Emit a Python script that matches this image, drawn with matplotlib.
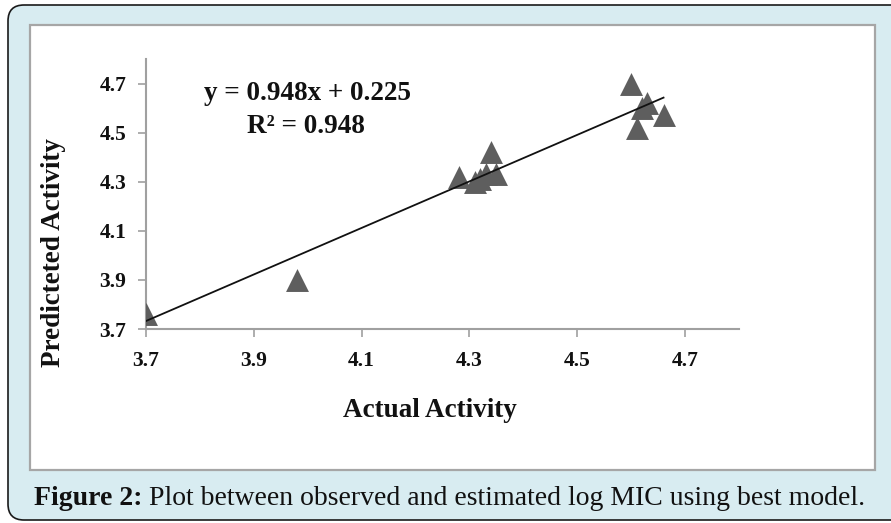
import matplotlib
matplotlib.use("Agg")
import matplotlib.pyplot as plt
import numpy as np
from matplotlib.patches import FancyBboxPatch, Rectangle

# ---- data ----
actual = [3.70, 3.98, 4.28, 4.31, 4.32, 4.33, 4.34, 4.35, 4.60, 4.61, 4.62, 4.63, 4.66]
predicted = [3.76, 3.90, 4.32, 4.30, 4.31, 4.33, 4.42, 4.33, 4.70, 4.52, 4.60, 4.62, 4.57]
slope = 0.948
intercept = 0.225
r2 = 0.948
x_ticks = [3.7, 3.9, 4.1, 4.3, 4.5, 4.7]
y_ticks = [3.7, 3.9, 4.1, 4.3, 4.5, 4.7]
x_label = "Actual Activity"
y_label = "Predicteted Activity"
caption_bold = "Figure 2:"
caption_rest = " Plot between observed and estimated log MIC using best model."

W, H = 891, 523
fig = plt.figure(figsize=(W / 100, H / 100), dpi=100)
fig.patch.set_facecolor("white")

# background (pixel coordinates)
bg = fig.add_axes([0, 0, 1, 1], zorder=0)
bg.set_xlim(0, W)
bg.set_ylim(H, 0)
bg.axis("off")
bg.add_patch(FancyBboxPatch((8, 5), 920, 515,
                            boxstyle="round,pad=0,rounding_size=16",
                            fc="#d8ecf1", ec="#1a1a1a", lw=1.2))
bg.add_patch(Rectangle((30, 25), 845, 445, fc="white", ec="#a6a6a6", lw=1.6))

serif = ["Liberation Serif", "DejaVu Serif"]

# main axes
left, right, top, bottom = 146, 739, 59, 329
ax = fig.add_axes([left / W, 1 - bottom / H, (right - left) / W, (bottom - top) / H], zorder=2)
ax.patch.set_alpha(0)
ax.scatter(actual, predicted, marker="^", s=16.5 ** 2, color="#5e5e5e", linewidths=0, zorder=3)
xs = np.array([min(actual), max(actual)])
ax.plot(xs, slope * xs + intercept, color="#111111", lw=1.3, zorder=4)

ax.set_xlim(3.7, 4.8)
ax.set_ylim(3.7, 4.8)
ax.set_xticks(x_ticks)
ax.set_yticks(y_ticks)
ax.set_xticklabels([f"{v:.1f}" for v in x_ticks])
ax.set_yticklabels([f"{v:.1f}" for v in y_ticks])
for s in ["top", "right"]:
    ax.spines[s].set_visible(False)
for s in ["left", "bottom"]:
    ax.spines[s].set_color("#a0a0a0")
    ax.spines[s].set_linewidth(1.5)
ax.tick_params(axis="both", direction="out", length=6, width=1.2, color="#a0a0a0")
ax.tick_params(axis="x", pad=10)
ax.tick_params(axis="y", pad=8)
for lab in ax.get_xticklabels() + ax.get_yticklabels():
    lab.set_fontfamily(serif)
    lab.set_fontweight("bold")
    lab.set_fontsize(15.5)
    lab.set_color("#111111")

# equation text
bg.text(307, 100, f"y = {slope}x + {intercept}", ha="center", va="baseline",
        fontsize=19.5, fontweight="bold", family=serif, color="#111111", zorder=5)
bg.text(306, 133, f"R² = {r2}", ha="center", va="baseline",
        fontsize=19.5, fontweight="bold", family=serif, color="#111111", zorder=5)

# axis labels
bg.text(430, 417, x_label, ha="center", va="baseline", fontsize=19.5,
        fontweight="bold", family=serif, color="#111111")
bg.text(53, 253, y_label, ha="center", va="center", rotation=90, fontsize=19.5,
        fontweight="bold", family=serif, color="#111111")

# caption
t1 = bg.text(34, 505, caption_bold, ha="left", va="baseline", fontsize=20,
             fontweight="bold", family=serif, color="#111111")
fig.canvas.draw()
r = fig.canvas.get_renderer()
bb = t1.get_window_extent(renderer=r)
x_next = bb.x1  # pixels from left
bg.text(x_next, 505, caption_rest, ha="left", va="baseline", fontsize=20,
        family=serif, color="#111111")

fig.savefig("out.png", dpi=100)
